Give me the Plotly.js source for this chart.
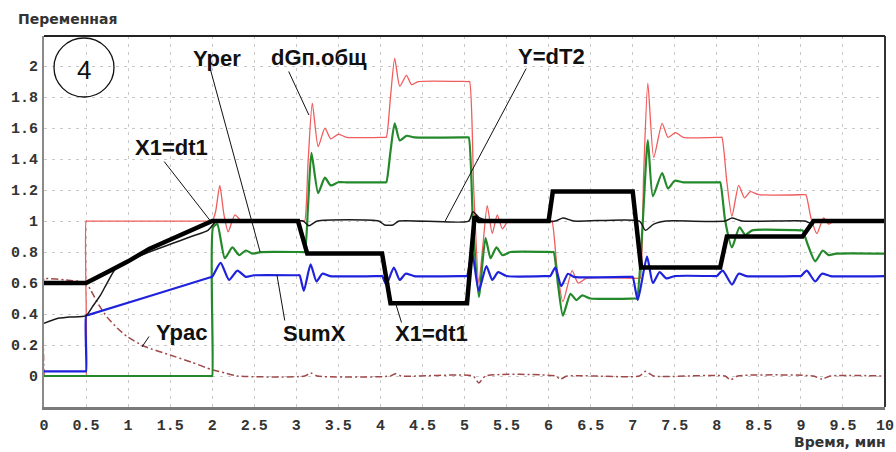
<!DOCTYPE html>
<html>
<head>
<meta charset="utf-8">
<script src="https://cdn.plot.ly/plotly-3.0.1.min.js"></script>
<style>html,body{margin:0;padding:0;background:#fff}</style>
</head>
<body>
<div id="chart" style="width:896px;height:452px"></div>
<script>
// Time axis (minutes) and tick labels
const xTicks = [0,0.5,1,1.5,2,2.5,3,3.5,4,4.5,5,5.5,6,6.5,7,7.5,8,8.5,9,9.5,10];
const xTickText = ['0','0.5','1','1.5','2','2.5','3','3.5','4','4.5','5','5.5','6','6.5','7','7.5','8','8.5','9','9.5','10'];
const yTicks = [0,0.2,0.4,0.6,0.8,1,1.2,1.4,1.6,1.8,2];
const yTickText = ['0','0.2','0.4','0.6','0.8','1','1.2','1.4','1.6','1.8','2'];

// dGп.общ (red)
const redT = [0,0.49,0.5,0.5,0.51,1.98,2.0,2.04,2.09,2.14,2.19,2.27,2.35,2.42,3.08,3.1,3.14,3.19,3.26,3.34,3.41,3.5,3.6,4.05,4.07,4.12,4.17,4.23,4.31,4.37,4.45,5.04,5.06,5.11,5.17,5.22,5.27,5.33,5.39,5.45,5.52,5.6,6.02,6.04,6.1,6.17,6.28,6.35,6.45,7.07,7.09,7.13,7.18,7.25,7.35,7.42,7.51,7.6,8.04,8.06,8.12,8.18,8.26,8.33,8.4,8.5,9.04,9.06,9.12,9.19,9.27,9.33,9.4,9.5,10];
const redV = [0,0,0,1.0,1.0,1.0,1.0,1.06,1.23,1.04,0.93,1.04,1.0,1.0,1.0,1.0,1.38,1.76,1.48,1.6,1.53,1.56,1.54,1.54,1.54,1.8,2.05,1.87,1.94,1.88,1.9,1.9,1.9,1.2,0.6,0.85,1.1,0.92,1.04,0.95,1.0,1.0,1.0,1.0,0.7,0.48,0.68,0.6,0.63,0.63,0.63,1.3,1.89,1.41,1.63,1.54,1.57,1.54,1.54,1.54,1.25,1.03,1.23,1.15,1.19,1.17,1.17,1.17,1.02,0.92,1.02,0.98,1.0,1.0,1.0];

// Yper (green)
const greenT = [0,1.99,2.0,2.01,2.06,2.15,2.24,2.32,2.4,2.48,2.58,3.08,3.1,3.14,3.18,3.26,3.34,3.41,3.5,3.6,4.05,4.07,4.12,4.17,4.23,4.31,4.4,5.03,5.05,5.1,5.17,5.25,5.31,5.38,5.45,5.55,6.04,6.06,6.11,6.17,6.26,6.33,6.4,6.5,7.03,7.05,7.12,7.18,7.24,7.35,7.42,7.5,7.6,8.02,8.04,8.1,8.18,8.27,8.34,8.42,9.0,9.02,9.08,9.17,9.26,9.33,9.42,10];
const greenV = [0,0,0,0.96,0.98,0.76,0.83,0.78,0.81,0.79,0.8,0.8,0.8,1.1,1.44,1.18,1.28,1.23,1.25,1.25,1.25,1.25,1.45,1.63,1.52,1.55,1.54,1.54,1.54,1.0,0.51,0.89,0.76,0.83,0.78,0.8,0.8,0.8,0.6,0.39,0.53,0.49,0.52,0.5,0.5,0.5,1.0,1.52,1.16,1.31,1.21,1.26,1.25,1.25,1.25,1.0,0.83,0.96,0.91,0.94,0.94,0.94,0.85,0.74,0.81,0.78,0.79,0.79];

// SumX (blue)
const blueT = [0,0.49,0.5,0.5,0.52,1.98,2.0,2.1,2.2,2.3,2.4,2.5,3.02,3.04,3.09,3.17,3.24,3.31,3.4,4.0,4.02,4.07,4.16,4.23,4.3,4.4,5.01,5.03,5.09,5.17,5.26,5.33,5.4,5.5,6.0,6.02,6.08,6.15,6.23,6.3,6.98,7.0,7.06,7.17,7.24,7.32,7.4,7.5,7.98,8.0,8.07,8.18,8.26,8.35,8.98,9.0,9.07,9.17,9.25,9.35,10];
const blueV = [0.03,0.03,0.03,0.39,0.393,0.637,0.64,0.73,0.62,0.68,0.64,0.65,0.65,0.65,0.55,0.72,0.61,0.66,0.645,0.645,0.645,0.59,0.7,0.62,0.66,0.645,0.645,0.645,0.8,0.55,0.71,0.62,0.67,0.645,0.645,0.645,0.7,0.58,0.66,0.64,0.64,0.64,0.49,0.77,0.6,0.67,0.63,0.645,0.645,0.645,0.68,0.59,0.66,0.645,0.645,0.645,0.68,0.61,0.66,0.645,0.645];

// X1=dt1 (thick black)
const x1T = [0,0.5,0.75,1.0,1.25,1.5,1.75,2.0,3.02,3.13,4.02,4.12,5.03,5.12,5.17,6.0,6.05,7.0,7.1,8.04,8.12,9.02,9.15,10];
const x1V = [0.6,0.6,0.67,0.74,0.82,0.88,0.94,1.0,1.0,0.79,0.79,0.47,0.47,1.03,1.0,1.0,1.19,1.19,0.7,0.7,0.9,0.9,1.0,1.0];

// Y=dT2 (thin black)
const yT = [0,0.15,0.3,0.5,0.58,0.67,0.75,0.85,1.0,1.25,1.5,1.75,1.95,2.05,2.12,3.08,3.15,3.25,3.98,4.05,4.15,4.22,5.05,5.1,5.18,5.3,6.08,6.17,6.3,7.08,7.15,7.25,7.4,8.1,8.18,8.3,9.05,9.12,9.2,10];
const yV = [0.34,0.37,0.38,0.39,0.45,0.52,0.6,0.69,0.74,0.8,0.85,0.9,0.94,1.0,1.0,1.0,0.97,1.0,1.0,0.975,0.975,1.0,1.0,1.06,1.02,1.0,1.0,1.02,1.0,1.0,0.94,0.98,1.0,1.0,1.02,1.0,1.0,0.985,1.0,1.0];

// Ypac (dash-dot)
const ypacT = [0,0,0.02,0.25,0.5,0.55,0.65,0.75,0.87,1.0,1.2,1.5,1.75,2.0,2.15,2.3,3.1,3.17,3.25,4.12,4.18,4.25,5.1,5.17,5.25,6.08,6.14,6.22,7.08,7.15,7.25,8.1,8.16,8.25,9.15,9.25,9.35,10];
const ypacV = [0,0.63,0.63,0.62,0.6,0.56,0.46,0.38,0.31,0.25,0.19,0.135,0.09,0.04,0.02,0,0,0.02,0,0,0.015,0,0,-0.045,0,0,-0.02,0,0,0.03,0,0,-0.025,0,0,-0.02,0,0];

// Curve labels and the points their leader lines touch
const labelText = ['Yper','dGп.общ','Y=dT2','X1=dt1','Ypac','SumX','X1=dt1'];
const labelHeadT = [2.57, 3.15, 4.77, 1.98, 1.165, 2.77, 4.18];
const labelHeadV = [0.80, 1.684, 1.0, 1.0, 0.187, 0.652, 0.47];

// Plot frame in pixels
const L = 44, R = 11, T = 36, B = 45, W = 896, H = 452;
const pw = W - L - R, ph = H - T - B;
const px = v => (v - L) / pw;          // pixel x -> paper
const py = v => (H - B - v) / ph;      // pixel y -> paper

// label placement: text centre and leader tail (pixels)
const labelPos = [[217,58],[319,57],[551,56],[171,147],[181,332],[314,333],[431,333]];
const leaderTail = [[210,68],[288,70],[527,67],[163,160],[150,335],[285,322],[402,324]];

function line(t, v, color, width, dash, smooth) {
  const ln = {color: color, width: width, dash: dash || 'solid', shape: smooth ? 'spline' : 'linear'};
  if (smooth) ln.smoothing = smooth;
  return {x: t, y: v, type: 'scatter', mode: 'lines', hoverinfo: 'skip', line: ln};
}

const traces = [
  line(ypacT, ypacV, '#a04848', 1.5, '7px,3px,2px,3px', 0.6),
  line(redT, redV, '#f05c5c', 1.3, null, 0.6),
  line(greenT, greenV, '#23892a', 2.2, null, 0.6),
  line(blueT, blueV, '#1f22dc', 2.2, null, 0.6),
  line(yT, yV, '#1a1a1a', 1.5, null, 0.6),
  line(x1T, x1V, '#000000', 4.5)
];

// coordinate helpers for leader lines
const xs = t => L + t * pw / 10;
const ys = v => T + (2.194 - v) * ph / 2.394;

const annotations = [];
labelText.forEach((txt, i) => {
  annotations.push({
    x: labelHeadT[i], y: labelHeadV[i], xref: 'x', yref: 'y',
    text: '', showarrow: true, arrowhead: 0, arrowwidth: 1, arrowcolor: '#111',
    ax: leaderTail[i][0] - xs(labelHeadT[i]), ay: leaderTail[i][1] - ys(labelHeadV[i]),
    standoff: 0, startstandoff: 0
  });
  annotations.push({
    x: px(labelPos[i][0]), y: py(labelPos[i][1]), xref: 'paper', yref: 'paper',
    xanchor: 'center', yanchor: 'middle', showarrow: false, text: txt,
    font: {family: 'Liberation Sans, Arial, sans-serif', size: 22, color: '#111', weight: 700}
  });
});

annotations.push({
  x: px(84), y: py(70), xref: 'paper', yref: 'paper', showarrow: false,
  xanchor: 'center', yanchor: 'middle', text: '4',
  font: {family: 'Liberation Sans, Arial, sans-serif', size: 26, color: '#111'}
});
annotations.push({
  x: px(16), y: py(19), xref: 'paper', yref: 'paper', showarrow: false,
  xanchor: 'left', yanchor: 'middle', text: 'Переменная',
  font: {family: 'DejaVu Sans, sans-serif', size: 14, color: '#333', weight: 700}
});
annotations.push({
  x: px(888), y: py(442), xref: 'paper', yref: 'paper', showarrow: false,
  xanchor: 'right', yanchor: 'middle', text: 'Время, мин',
  font: {family: 'DejaVu Sans, sans-serif', size: 14, color: '#333', weight: 700}
});

const tickFont = {family: 'Liberation Mono, Courier New, monospace', size: 15, color: '#333', weight: 700};

const layout = {
  width: W, height: H,
  margin: {l: L, r: R, t: T, b: B, pad: 0},
  paper_bgcolor: '#ffffff', plot_bgcolor: '#ffffff',
  showlegend: false,
  xaxis: {
    range: [0, 10], tickvals: xTicks, ticktext: xTickText, tickfont: tickFont,
    showgrid: true, gridcolor: '#c8c8c8', griddash: '3px,5px', gridwidth: 1,
    zeroline: false, showline: true, linecolor: '#7a7a7a', linewidth: 3,
    ticks: '', ticklabelstandoff: 2
  },
  yaxis: {
    range: [-0.2, 2.194], tickvals: yTicks, ticktext: yTickText, tickfont: tickFont,
    showgrid: true, gridcolor: '#c8c8c8', griddash: '3px,5px', gridwidth: 1,
    zeroline: false, showline: true, linecolor: '#8a8a8a', linewidth: 2,
    ticks: '', ticklabelstandoff: 1
  },
  shapes: [
    {type: 'line', xref: 'paper', yref: 'paper', x0: 0, x1: 1, y0: 1, y1: 1, line: {color: '#222', width: 2}},
    {type: 'line', xref: 'paper', yref: 'paper', x0: 1, x1: 1, y0: 0, y1: 1, line: {color: '#333', width: 2}},
    {type: 'circle', xref: 'paper', yref: 'paper', x0: px(54), x1: px(114), y0: py(97), y1: py(38),
     line: {color: '#111', width: 1.3}}
  ],
  annotations: annotations
};

Plotly.newPlot('chart', traces, layout, {staticPlot: true});
</script>
</body>
</html>
